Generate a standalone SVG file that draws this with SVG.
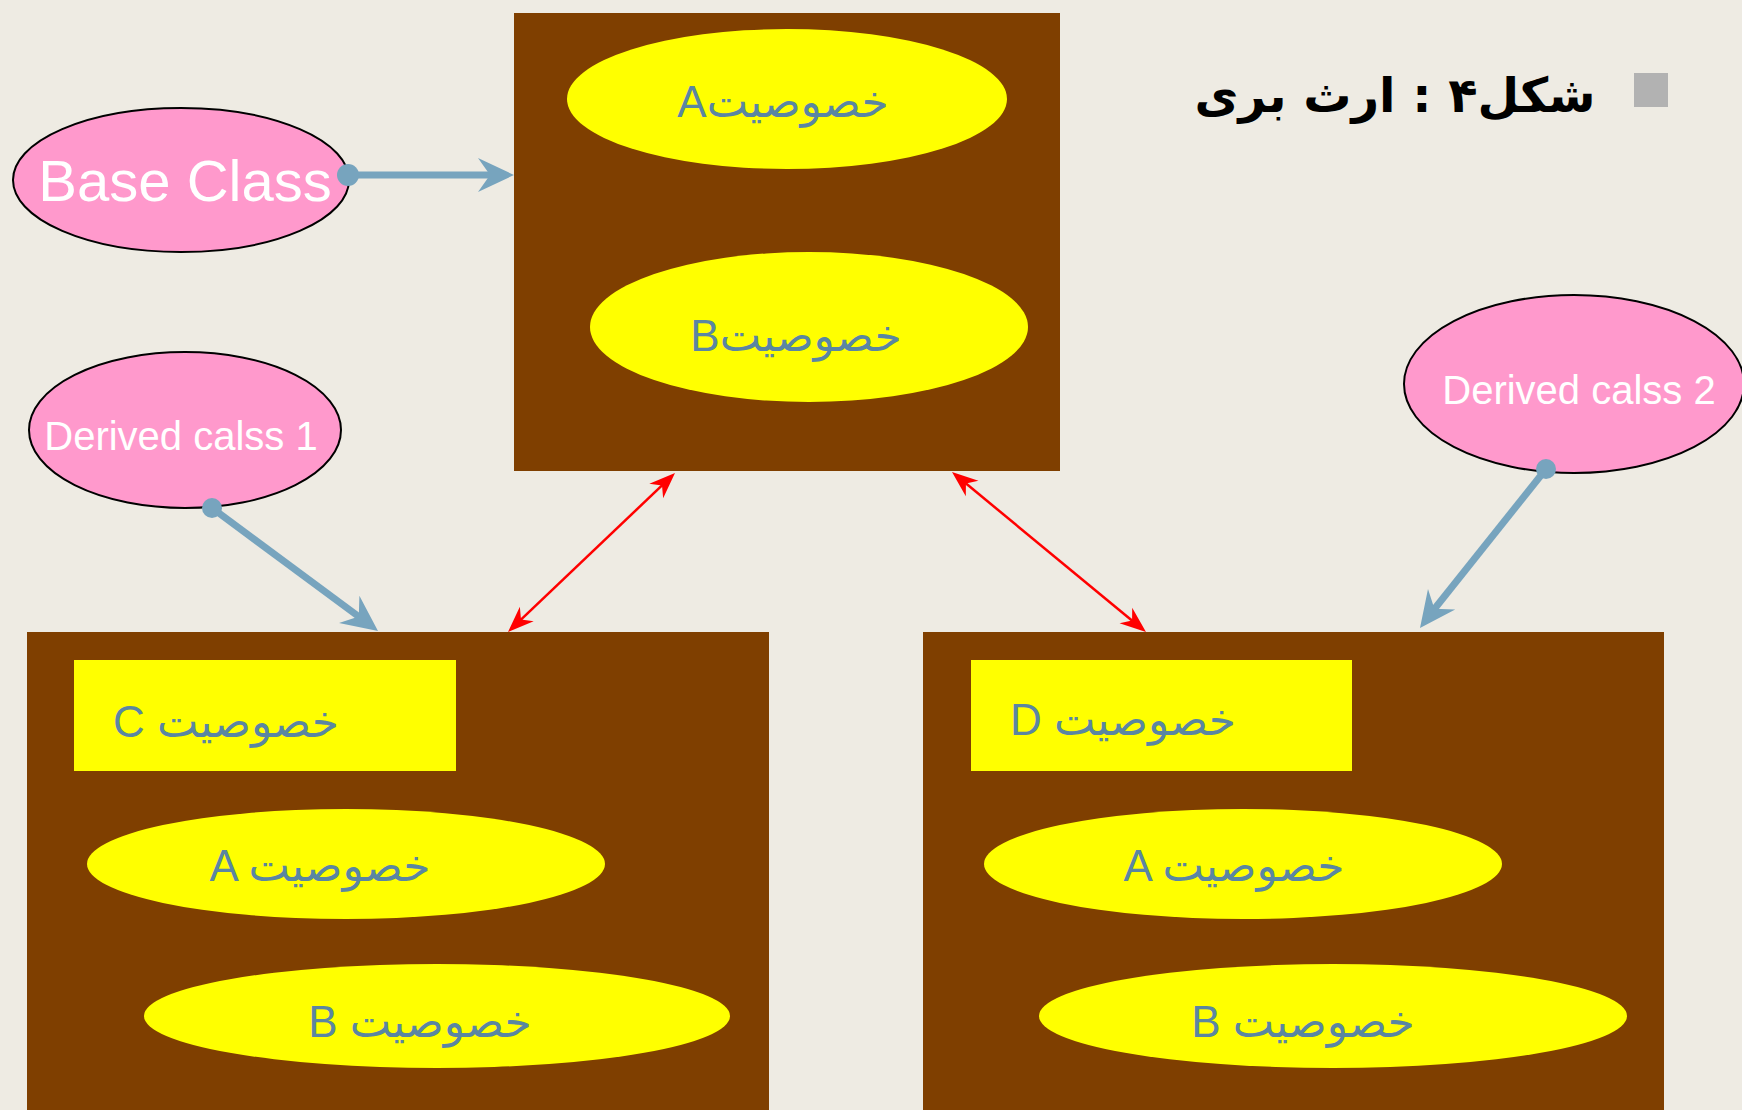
<svg xmlns="http://www.w3.org/2000/svg" width="1742" height="1110" viewBox="0 0 1742 1110">
<style>
.bg{fill:#EEEBE3}
.box{fill:#7F3F00}
.yel{fill:#FFFF00}
.pink{fill:#FF99CC;stroke:#000;stroke-width:2}
.attr{font-family:"Liberation Sans","DejaVu Sans",sans-serif;font-size:44px;fill:#5A86A2;text-anchor:middle}
.cls{font-family:"Liberation Sans",sans-serif;fill:#FFFFFF;text-anchor:middle}
.blue{stroke:#77A4BE;stroke-width:7;fill:none}
.dot{fill:#77A4BE}
.red{stroke:#FF0000;stroke-width:2.5;fill:none}
.title{font-family:"DejaVu Sans",sans-serif;font-weight:bold;font-size:48px;fill:#000}
</style>
<defs>
<marker id="ab" markerUnits="userSpaceOnUse" viewBox="-37 -18 38 36" refX="0" refY="0" markerWidth="38" markerHeight="36" orient="auto">
<path d="M0,0 L-36,-17 L-24,0 L-36,17 Z" fill="#77A4BE"/>
</marker>
<marker id="ar" markerUnits="userSpaceOnUse" viewBox="-27 -11 28 22" refX="0" refY="0" markerWidth="28" markerHeight="22" orient="auto-start-reverse">
<path d="M0,0 L-26,-10 L-18,0 L-26,10 Z" fill="#FF0000"/>
</marker>
</defs>
<rect class="bg" x="0" y="0" width="1742" height="1110"/>

<g id="title">
<rect x="1634" y="73" width="34" height="34" fill="#B2B2B2"/>
<text class="title" x="1395" y="112" text-anchor="middle" direction="rtl">شکل۴ : ارث بری</text>
</g>

<g id="base-class-box">
<rect class="box" x="514" y="13" width="546" height="458"/>
<ellipse class="yel" cx="787" cy="99" rx="220" ry="70"/>
<text class="attr" x="783" y="117">Aخصوصیت</text>
<ellipse class="yel" cx="809" cy="327" rx="219" ry="75"/>
<text class="attr" x="796" y="351">Bخصوصیت</text>
</g>

<g id="derived1-box">
<rect class="box" x="27" y="632" width="742" height="478"/>
<rect class="yel" x="74" y="660" width="382" height="111"/>
<text class="attr" x="226" y="737">C خصوصیت</text>
<ellipse class="yel" cx="346" cy="864" rx="259" ry="55"/>
<text class="attr" x="320" y="881">A خصوصیت</text>
<ellipse class="yel" cx="437" cy="1016" rx="293" ry="52"/>
<text class="attr" x="420" y="1037">B خصوصیت</text>
</g>

<g id="derived2-box">
<rect class="box" x="923" y="632" width="741" height="478"/>
<rect class="yel" x="971" y="660" width="381" height="111"/>
<text class="attr" x="1123" y="735">D خصوصیت</text>
<ellipse class="yel" cx="1243" cy="864" rx="259" ry="55"/>
<text class="attr" x="1234" y="881">A خصوصیت</text>
<ellipse class="yel" cx="1333" cy="1016" rx="294" ry="52"/>
<text class="attr" x="1303" y="1037">B خصوصیت</text>
</g>

<g id="base-class">
<ellipse class="pink" cx="181" cy="180" rx="168" ry="72"/>
<text class="cls" x="185" y="201" font-size="58">Base Class</text>
</g>

<g id="derived-calss-1">
<ellipse class="pink" cx="185" cy="430" rx="156" ry="78"/>
<text class="cls" x="181" y="450" font-size="40">Derived calss 1</text>
</g>

<g id="derived-calss-2">
<ellipse class="pink" cx="1574" cy="384" rx="170" ry="89"/>
<text class="cls" x="1579" y="404" font-size="40">Derived calss 2</text>
</g>

<g id="connectors">
<line class="blue" x1="348" y1="175" x2="494" y2="175"/>
<path d="M494,175 L514,175" stroke="none" marker-end="url(#ab)"/>
<circle class="dot" cx="348" cy="175" r="11"/>

<line class="blue" x1="212" y1="508" x2="362" y2="619"/>
<path d="M362,619 L378,631" stroke="none" marker-end="url(#ab)"/>
<circle class="dot" cx="212" cy="508" r="10"/>

<line class="blue" x1="1546" y1="469" x2="1432" y2="612"/>
<path d="M1432,612 L1420,628" stroke="none" marker-end="url(#ab)"/>
<circle class="dot" cx="1546" cy="469" r="10"/>

<line class="red" x1="667.8" y1="479.9" x2="515.2" y2="625.1"/>
<path d="M675,473 L667.8,479.9" stroke="none" marker-start="url(#ar)"/>
<path d="M515.2,625.1 L508,632" stroke="none" marker-end="url(#ar)"/>

<line class="red" x1="959.7" y1="478.3" x2="1138.3" y2="625.7"/>
<path d="M952,472 L959.7,478.3" stroke="none" marker-start="url(#ar)"/>
<path d="M1138.3,625.7 L1146,632" stroke="none" marker-end="url(#ar)"/>
</g>
</svg>
